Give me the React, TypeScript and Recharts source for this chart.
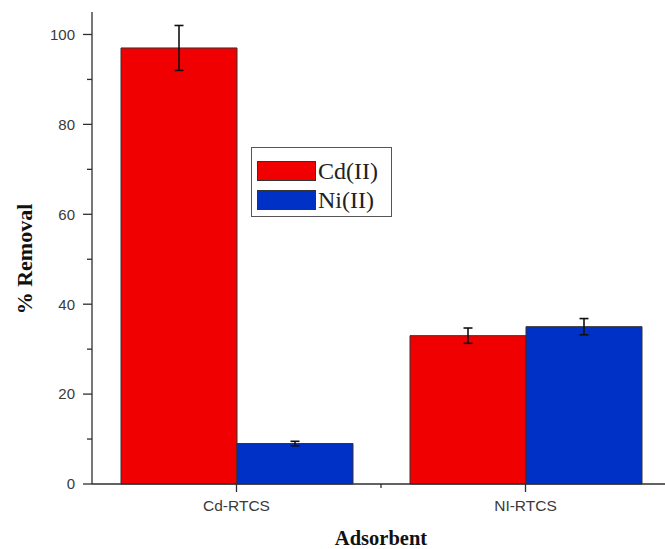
import React from 'react';
import { BarChart, Bar, XAxis, YAxis, ErrorBar, Legend } from 'recharts';

const categories = ['Cd-RTCS', 'NI-RTCS'];
const cdValues = [97, 33];
const cdErrors = [5, 1.7];
const niValues = [9, 35];
const niErrors = [0.5, 1.8];
const yTicks = [0, 10, 20, 30, 40, 50, 60, 70, 80, 90, 100];
const yLabelTicks = [0, 20, 40, 60, 80, 100];

const data = categories.map((c, i) => ({
  name: c,
  cd: cdValues[i],
  cdErr: cdErrors[i],
  ni: niValues[i],
  niErr: niErrors[i],
}));

const RED = '#F00000';
const BLUE = '#0031C6';
const AXIS = '#2e2e2e';
const TICK_TEXT = '#3a3a3a';
const Y_TICK_SIZE = 9;
const Y_TICK_MARGIN = 8;
const X_TICK_SIZE = 8;
const X_TICK_MARGIN = 8;

const YTick = (props: any) => {
  const { x, y, payload } = props;
  const v = payload.value;
  const major = yLabelTicks.includes(v);
  const axisX = x + Y_TICK_SIZE + Y_TICK_MARGIN;
  return (
    <g>
      <line
        x1={axisX - (major ? Y_TICK_SIZE : 5)}
        x2={axisX}
        y1={y}
        y2={y}
        stroke={AXIS}
        strokeWidth={1.3}
      />
      {major && (
        <text
          x={x}
          y={y}
          dy="0.36em"
          textAnchor="end"
          fontFamily="'Liberation Sans', Arial, sans-serif"
          fontSize={15}
          fill={TICK_TEXT}
        >
          {v}
        </text>
      )}
    </g>
  );
};

const XTick = (props: any) => {
  const { x, y, payload, index } = props;
  const axisY = y - X_TICK_SIZE - X_TICK_MARGIN;
  const off = payload && typeof payload.offset === 'number' ? payload.offset : 0;
  return (
    <g>
      <line x1={x} x2={x} y1={axisY} y2={axisY + X_TICK_SIZE} stroke={AXIS} strokeWidth={1.3} />
      {off > 0 && index === 0 && (
        <line x1={x + off} x2={x + off} y1={axisY} y2={axisY + 4} stroke={AXIS} strokeWidth={1.3} />
      )}
      <text
        x={x}
        y={y}
        dy="0.71em"
        textAnchor="middle"
        fontFamily="'Liberation Sans', Arial, sans-serif"
        fontSize={15.5}
        fill={TICK_TEXT}
      >
        {payload.value}
      </text>
    </g>
  );
};

const renderLegend = (props: any) => {
  const { payload } = props;
  return (
    <div
      style={{
        border: '1px solid #555',
        width: 141,
        height: 70,
        boxSizing: 'border-box',
        padding: '9px 0 0 5px',
        background: '#fff',
      }}
    >
      {payload.map((p: any, i: number) => (
        <div key={i} style={{ display: 'flex', alignItems: 'center', height: 28.5 }}>
          <div
            style={{
              width: 59,
              height: 20,
              background: p.color,
              border: '1px solid #333',
              boxSizing: 'border-box',
            }}
          />
          <span
            style={{
              marginLeft: 2,
              fontFamily: "'Liberation Serif', 'Times New Roman', serif",
              fontSize: 24,
              color: '#222',
              lineHeight: '24px',
            }}
          >
            {p.value}
          </span>
        </div>
      ))}
    </div>
  );
};

export default function App() {
  return (
    <div
      style={{
        position: 'fixed',
        left: 0,
        top: 0,
        width: 665,
        height: 549,
        overflow: 'hidden',
        background: '#fff',
      }}
    >
      <BarChart
        width={700}
        height={549}
        data={data}
        margin={{ top: 12, right: 30, bottom: 0, left: 0 }}
        barGap={0}
        barSize={116}
      >
        <XAxis
          dataKey="name"
          height={65}
          tickSize={X_TICK_SIZE}
          tickMargin={X_TICK_MARGIN}
          tickLine={false}
          axisLine={{ stroke: AXIS, strokeWidth: 1.3 }}
          tick={<XTick />}
          interval={0}
          label={{
            content: (p: any) => {
              const vb = p.viewBox || { x: 92, width: 578 };
              return (
                <text
                  x={vb.x + vb.width / 2}
                  y={545}
                  textAnchor="middle"
                  fontFamily="'Liberation Serif', 'Times New Roman', serif"
                  fontWeight="bold"
                  fontSize={20.5}
                  fill="#111"
                >
                  Adsorbent
                </text>
              );
            },
          }}
        />
        <YAxis
          width={92}
          domain={[0, 105]}
          ticks={yTicks}
          interval={0}
          tickSize={Y_TICK_SIZE}
          tickMargin={Y_TICK_MARGIN}
          tickLine={false}
          axisLine={{ stroke: AXIS, strokeWidth: 1.3 }}
          tick={<YTick />}
          label={{
            content: () => (
              <text
                x={24}
                y={259}
                transform="rotate(-90 24 259)"
                dy="0.35em"
                textAnchor="middle"
                fontFamily="'Liberation Serif', 'Times New Roman', serif"
                fontWeight="bold"
                fontSize={22}
                fill="#111"
              >
                % Removal
              </text>
            ),
          }}
        />
        <Legend
          layout="vertical"
          align="center"
          verticalAlign="middle"
          content={renderLegend}
          wrapperStyle={{ position: 'absolute', left: 251, top: 147, width: 141, height: 70 }}
        />
        <Bar dataKey="cd" name="Cd(II)" fill={RED} stroke="#333" strokeWidth={1} isAnimationActive={false}>
          <ErrorBar dataKey="cdErr" width={4.5} stroke="#111" strokeWidth={1.6} direction="y" />
        </Bar>
        <Bar dataKey="ni" name="Ni(II)" fill={BLUE} stroke="#333" strokeWidth={1} isAnimationActive={false}>
          <ErrorBar dataKey="niErr" width={4.5} stroke="#111" strokeWidth={1.6} direction="y" />
        </Bar>
      </BarChart>
    </div>
  );
}
